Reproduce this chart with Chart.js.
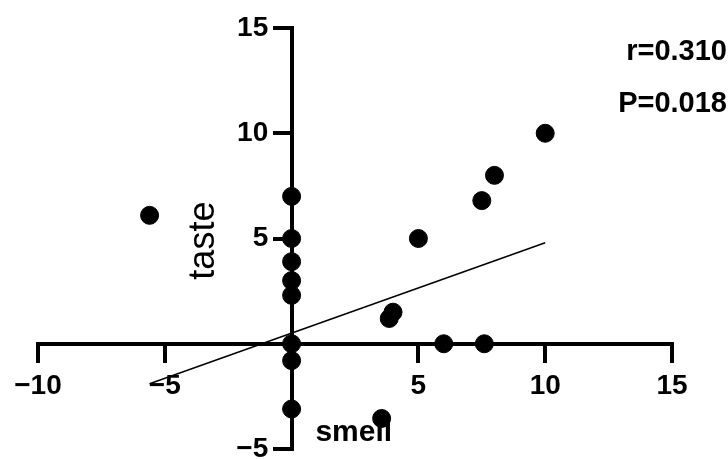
<!DOCTYPE html>
<html lang="en">
<head>
    <meta charset="UTF-8">
    <title>smell vs taste</title>
    <script src="https://cdn.jsdelivr.net/npm/chart.js"></script>
    <style>
        html, body { margin: 0; padding: 0; background: #fff; }
        #wrap { width: 728px; height: 459px; }
    </style>
</head>
<body>
    <div id="wrap"><canvas id="scatterChart" width="728" height="459"></canvas></div>
    <script>
        // dados
        const smell = [-5.6, 0, 0, 0, 0, 0, 0, 0, 0, 5, 4, 3.85, 6, 7.6, 3.55, 10, 8, 7.5];
        const taste = [6.1, 7, 5, 3.9, 3.0, 2.3, 0, -0.8, -3.1, 5, 1.5, 1.2, 0, 0, -3.55, 10, 8, 6.8];
        const fitX = [-5.6, 10];
        const fitY = [-1.9, 4.8];
        const xTicks = [-10, -5, 0, 5, 10, 15];
        const yTicks = [-5, 0, 5, 10, 15];
        const statsText = ['r=0.310', 'P=0.018'];

        const pontos = smell.map((v, i) => ({ x: v, y: taste[i] }));
        const linha = fitX.map((v, i) => ({ x: v, y: fitY[i] }));

        const fmt = v => v === 0 ? '' : String(v).replace('-', '\u2212');
        const tickFont = { family: '"Liberation Sans", Arial, sans-serif', size: 28, weight: 'bold' };

        // textos: nomes dos eixos e estatistica
        const textos = {
            id: 'textos',
            afterDraw(chart) {
                const ctx = chart.ctx;
                const sx = chart.scales.x, sy = chart.scales.y;
                ctx.save();
                ctx.fillStyle = '#000';
                ctx.textAlign = 'center';
                ctx.textBaseline = 'middle';
                ctx.font = '36px "Liberation Sans", Arial, sans-serif';
                ctx.save();
                ctx.translate(sx.getPixelForValue(-3.45), sy.getPixelForValue(4.9));
                ctx.rotate(-Math.PI / 2);
                ctx.fillText('taste', 0, 0);
                ctx.restore();
                ctx.font = 'bold 30px "Liberation Sans", Arial, sans-serif';
                ctx.fillText('smell', sx.getPixelForValue(2.45), sy.getPixelForValue(-4.25));

                ctx.font = 'bold 29px "Liberation Sans", Arial, sans-serif';
                ctx.textAlign = 'right';
                ctx.textBaseline = 'alphabetic';
                ctx.fillText(statsText[0], 727, 60);
                ctx.fillText(statsText[1], 727, 112);
                ctx.restore();
            }
        };

        new Chart(document.getElementById('scatterChart'), {
            type: 'scatter',
            data: {
                datasets: [{
                    data: pontos,
                    backgroundColor: '#000',
                    borderColor: '#000',
                    pointRadius: 9,
                    pointHoverRadius: 9
                }, {
                    type: 'line',
                    data: linha,
                    borderColor: '#000',
                    borderWidth: 1.5,
                    pointRadius: 0,
                    fill: false
                }]
            },
            options: {
                responsive: false,
                animation: false,
                layout: { padding: { left: 38, right: 56, top: 28, bottom: 9 } },
                plugins: { legend: { display: false }, tooltip: { enabled: false } },
                scales: {
                    x: {
                        type: 'linear',
                        min: -10,
                        max: 15,
                        position: { y: 0 },
                        afterBuildTicks: s => { s.ticks = xTicks.map(v => ({ value: v })); },
                        afterFit: s => { s.paddingLeft = 0; s.paddingRight = 0; },
                        grid: { drawOnChartArea: false, tickLength: 17, color: '#000', lineWidth: 4 },
                        border: { color: '#000', width: 4 },
                        ticks: { color: '#000', font: tickFont, padding: 9, maxRotation: 0, callback: fmt }
                    },
                    y: {
                        type: 'linear',
                        min: -5,
                        max: 15,
                        position: { x: 0 },
                        afterBuildTicks: s => { s.ticks = yTicks.map(v => ({ value: v })); },
                        afterFit: s => { s.paddingTop = 0; s.paddingBottom = 0; },
                        grid: { drawOnChartArea: false, tickLength: 17, color: '#000', lineWidth: 4 },
                        border: { color: '#000', width: 4 },
                        // espacos no fim afastam o texto do eixo
                        ticks: { color: '#000', font: tickFont, callback: v => fmt(v) + '   ' }
                    }
                }
            },
            plugins: [textos]
        });
    </script>
</body>
</html>
